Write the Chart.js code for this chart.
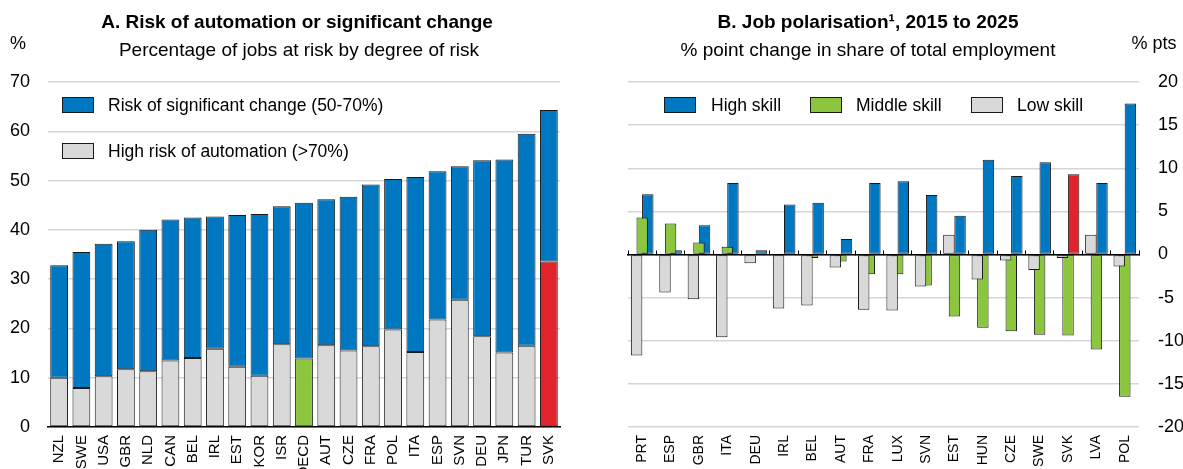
<!DOCTYPE html>
<html>
<head>
<meta charset="utf-8">
<script src="https://cdn.jsdelivr.net/npm/chart.js@4.4.1/dist/chart.umd.min.js"></script>
<style>
  body { margin: 0; width: 1183px; height: 469px; background: #fff; position: relative; overflow: hidden;
         font-family: "Liberation Sans", Arial, sans-serif; color: #000; }
  .t { position: absolute; white-space: nowrap; line-height: 20px; font-size: 19px; }
  .l { font-size: 17.5px; }
  .c { transform: translateX(-50%); }
  .b { font-weight: bold; }
  .box { position: absolute; width: 30px; height: 14px; border: 1px solid #1a1a1a; }
  canvas { position: absolute; top: 0; }
</style>
</head>
<body>
<canvas id="chartA" width="592" height="469" style="left:0"></canvas>
<canvas id="chartB" width="591" height="469" style="left:592px"></canvas>

<div class="t c b" style="left:297px;top:12px">A. Risk of automation or significant change</div>
<div class="t c" style="left:299px;top:40px">Percentage of jobs at risk by degree of risk</div>
<div class="t c" style="left:18px;top:33px;font-size:18px">%</div>

<div class="t c b" style="left:868px;top:12px">B. Job polarisation¹, 2015 to 2025</div>
<div class="t c" style="left:868px;top:40px">% point change in share of total employment</div>
<div class="t c" style="left:1154px;top:33px;font-size:18px">% pts</div>

<div class="box" style="left:62px;top:97px;background:#0078c1"></div>
<div class="t l" style="left:108px;top:95px">Risk of significant change (50-70%)</div>
<div class="box" style="left:62px;top:143px;background:#d9d9d9"></div>
<div class="t l" style="left:108px;top:141px">High risk of automation (&gt;70%)</div>

<div class="box" style="left:664px;top:97px;background:#0078c1"></div>
<div class="t l" style="left:711px;top:95px">High skill</div>
<div class="box" style="left:810px;top:97px;background:#8cc63f"></div>
<div class="t l" style="left:856px;top:95px">Middle skill</div>
<div class="box" style="left:971px;top:97px;background:#d9d9d9"></div>
<div class="t l" style="left:1017px;top:95px">Low skill</div>

<script>
// Panel A: share of jobs at risk (%)
const countriesA = ["NZL", "SWE", "USA", "GBR", "NLD", "CAN", "BEL", "IRL", "EST", "KOR", "ISR", "OECD",
                    "AUT", "CZE", "FRA", "POL", "ITA", "ESP", "SVN", "DEU", "JPN", "TUR", "SVK"];
const highRisk = [10.0, 7.9, 10.3, 11.7, 11.3, 13.5, 14.0, 15.9, 12.2, 10.4, 16.8, 13.9,
                  16.6, 15.5, 16.4, 19.8, 15.2, 21.8, 25.8, 18.4, 15.1, 16.5, 33.6];
const significantChange = [22.8, 27.6, 26.9, 26.0, 28.7, 28.6, 28.5, 26.8, 30.8, 32.8, 28.0, 31.6,
                           29.6, 31.2, 32.8, 30.5, 35.5, 30.1, 27.1, 35.7, 39.2, 43.0, 30.7];
const ticksA = [0, 10, 20, 30, 40, 50, 60, 70];

// Panel B: % point change in share of total employment
const countriesB = ["PRT", "ESP", "GBR", "ITA", "DEU", "IRL", "BEL", "AUT", "FRA",
                    "LUX", "SVN", "EST", "HUN", "CZE", "SWE", "SVK", "LVA", "POL"];
const highSkill = [7.0, 0.5, 3.4, 8.3, 0.5, 5.8, 6.0, 1.8, 8.3, 8.5, 6.9, 4.5, 11.0, 9.1, 10.7, 9.3, 8.3, 17.5];
const middleSkill = [4.3, 3.6, 1.4, 0.9, 0.1, 0.05, -0.4, -0.8, -2.3, -2.3, -3.6, -7.2, -8.5, -8.9, -9.3, -9.4, -11.0, -16.5];
const lowSkill = [-11.7, -4.4, -5.2, -9.6, -1.0, -6.25, -5.9, -1.5, -6.4, -6.5, -3.7, 2.3, -2.9, -0.7, -1.8, -0.4, 2.3, -1.4];
const ticksB = [-20, -15, -10, -5, 0, 5, 10, 15, 20];

const BLUE = "#0078c1", GREY = "#d9d9d9", GREEN = "#8cc63f", RED = "#e1242b", EDGE = "#1a1a1a";
const FONT = "'Liberation Sans', Arial, sans-serif";
const GRID = "#d6d6d6";

function highlight(labels, base) {
    return labels.map(c => c === "SVK" ? RED : (c === "OECD" ? GREEN : base));
}

new Chart(document.getElementById("chartA"), {
    type: "bar",
    data: {
        labels: countriesA,
        datasets: [{
            label: "High risk of automation (>70%)",
            data: highRisk,
            backgroundColor: highlight(countriesA, GREY)
        }, {
            label: "Risk of significant change (50-70%)",
            data: significantChange,
            backgroundColor: BLUE
        }]
    },
    options: {
        responsive: false,
        animation: false,
        layout: { padding: { top: 82, right: 32 } },
        datasets: { bar: { borderColor: EDGE, borderWidth: 1, borderSkipped: false,
                           barPercentage: 0.8, categoryPercentage: 1 } },
        plugins: { legend: { display: false }, tooltip: { enabled: false } },
        scales: {
            x: {
                stacked: true,
                grid: { display: false },
                border: { display: true, color: "#000", width: 1.5 },
                ticks: { autoSkip: false, minRotation: 90, maxRotation: 90, padding: 0,
                         color: "#000", font: { family: FONT, size: 15 } },
                afterFit: s => { s.height = 42; }
            },
            y: {
                stacked: true,
                min: 0, max: 70,
                afterBuildTicks: s => { s.ticks = ticksA.map(v => ({ value: v })); },
                grid: { color: GRID, lineWidth: 1.5, drawTicks: false },
                border: { display: false },
                ticks: { padding: 18, color: "#000", font: { family: FONT, size: 18 } },
                afterFit: s => { s.width = 48; }
            }
        }
    }
});

new Chart(document.getElementById("chartB"), {
    type: "bar",
    data: {
        labels: countriesB,
        datasets: [{
            label: "Low skill",
            data: lowSkill,
            backgroundColor: GREY
        }, {
            label: "Middle skill",
            data: middleSkill,
            backgroundColor: GREEN
        }, {
            label: "High skill",
            data: highSkill,
            backgroundColor: highlight(countriesB, BLUE)
        }]
    },
    options: {
        responsive: false,
        animation: false,
        layout: { padding: { top: 82, left: 36 } },
        datasets: { bar: { borderColor: EDGE, borderWidth: 1, borderSkipped: false,
                           barPercentage: 2.05, categoryPercentage: 0.59 } },
        plugins: { legend: { display: false }, tooltip: { enabled: false } },
        scales: {
            x: {
                offset: true,
                grid: { display: false },
                border: { display: false },
                ticks: { autoSkip: false, minRotation: 90, maxRotation: 90, padding: 0,
                         color: "#000", font: { family: FONT, size: 14 } },
                afterFit: s => { s.height = 42; }
            },
            zero: {
                axis: "x",
                type: "category",
                position: { y: 0 },
                offset: true,
                grid: { drawOnChartArea: false, offset: true, tickLength: -5, color: "#000", lineWidth: 1 },
                border: { display: true, color: "#000", width: 1.5 },
                ticks: { display: false }
            },
            y: {
                position: "right",
                min: -20, max: 20,
                afterBuildTicks: s => { s.ticks = ticksB.map(v => ({ value: v })); },
                grid: { color: GRID, lineWidth: 1.5, drawTicks: false },
                border: { display: false },
                ticks: { padding: 19, color: "#000", font: { family: FONT, size: 18 } },
                afterFit: s => { s.width = 44; }
            }
        }
    }
});
</script>
</body>
</html>
